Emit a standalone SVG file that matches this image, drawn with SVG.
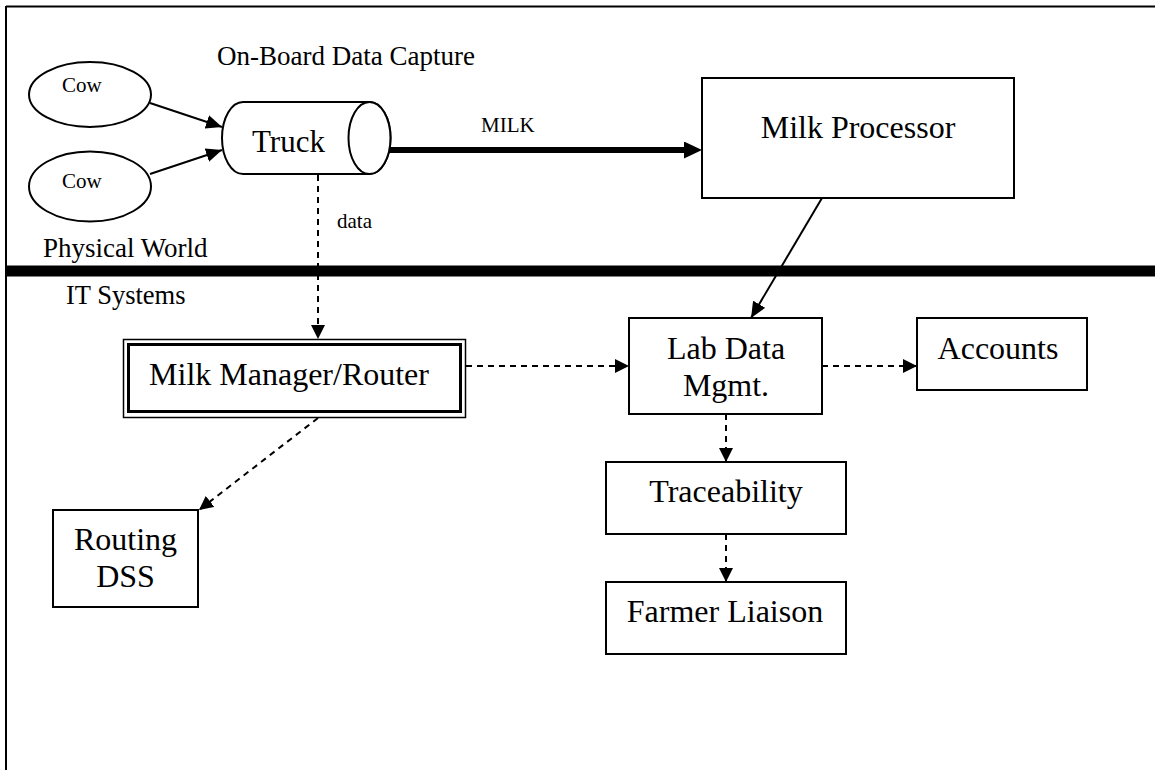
<svg xmlns="http://www.w3.org/2000/svg" width="1155" height="770" viewBox="0 0 1155 770">
  <style>
    text { font-family: "Liberation Serif", "Times New Roman", serif; fill: #000; }
    .box { fill: #fff; stroke: #000; stroke-width: 2; }
    .big { font-size: 32px; }
    .mid { font-size: 27px; }
    .small { font-size: 21px; }
    .c { text-anchor: middle; }
    .solid { stroke: #000; stroke-width: 2; fill: none; }
    .dash { stroke: #000; stroke-width: 2; fill: none; stroke-dasharray: 6 5; }
  </style>
  <defs>
    <marker id="head" markerUnits="userSpaceOnUse" viewBox="0 0 16 14" refX="16" refY="7" markerWidth="16" markerHeight="14" orient="auto">
      <path d="M0,0 L16,7 L0,14 Z" fill="#000"/>
    </marker>
    <marker id="headD" markerUnits="userSpaceOnUse" viewBox="0 0 14 14" refX="14" refY="7" markerWidth="14" markerHeight="14" orient="auto">
      <path d="M0,0 L14,7 L0,14 Z" fill="#000"/>
    </marker>
    <marker id="headBig" markerUnits="userSpaceOnUse" viewBox="0 0 18 17" refX="0" refY="8.5" markerWidth="18" markerHeight="17" orient="auto">
      <path d="M0,0 L18,8.5 L0,17 Z" fill="#000"/>
    </marker>
  </defs>

  <rect width="1155" height="770" fill="#fff"/>

  <!-- frame and world divider -->
  <g id="frame">
    <line x1="6" y1="6.5" x2="1155" y2="6.5" stroke="#000" stroke-width="2"/>
    <line x1="6" y1="6" x2="6" y2="770" stroke="#000" stroke-width="2"/>
    <line x1="6" y1="271" x2="1155" y2="271" stroke="#000" stroke-width="11"/>
    <text class="mid" x="217" y="65">On-Board Data Capture</text>
    <text class="mid" x="43" y="257">Physical World</text>
    <text class="mid" x="66" y="304" style="font-size:26.5px">IT Systems</text>
  </g>

  <!-- connectors -->
  <g id="connectors">
    <line class="solid" x1="150" y1="103" x2="222" y2="127" marker-end="url(#head)"/>
    <line class="solid" x1="150" y1="174" x2="222" y2="150" marker-end="url(#head)"/>
    <line x1="389" y1="150" x2="684" y2="150" stroke="#000" stroke-width="6" marker-end="url(#headBig)"/>
    <text class="small" x="481" y="132">MILK</text>
    <line class="dash" x1="318" y1="175" x2="318" y2="339" marker-end="url(#headD)"/>
    <text class="small" x="337" y="228">data</text>
    <line class="solid" x1="822" y1="198" x2="751" y2="318" marker-end="url(#head)"/>
    <line class="dash" x1="466" y1="366" x2="629" y2="366" marker-end="url(#headD)"/>
    <line class="dash" x1="822" y1="366" x2="917" y2="366" marker-end="url(#headD)"/>
    <line class="dash" x1="726" y1="414" x2="726" y2="462" marker-end="url(#headD)"/>
    <line class="dash" x1="726" y1="534" x2="726" y2="582" marker-end="url(#headD)"/>
    <line class="dash" x1="318" y1="418" x2="199" y2="510" marker-end="url(#headD)"/>
  </g>

  <g id="cow1">
    <ellipse class="box" cx="90" cy="94.5" rx="61" ry="32.5"/>
    <text class="small" x="62" y="92">Cow</text>
  </g>
  <g id="cow2">
    <ellipse class="box" cx="90" cy="186.5" rx="61" ry="35"/>
    <text class="small" x="62" y="188">Cow</text>
  </g>

  <g id="truck">
    <path class="box" d="M243,102 L369.5,102 A21,36 0 0 1 369.5,174 L243,174 A21,36 0 0 1 243,102 Z"/>
    <ellipse class="box" cx="369.5" cy="138" rx="21" ry="36"/>
    <text x="252" y="152" style="font-size:31px">Truck</text>
  </g>

  <g id="milk-processor">
    <rect class="box" x="702" y="78" width="312" height="120"/>
    <text class="big c" x="858" y="138">Milk Processor</text>
  </g>

  <g id="milk-manager">
    <rect x="123.5" y="339.5" width="342" height="78" fill="#fff" stroke="#000" stroke-width="1.5"/>
    <rect x="128.5" y="344.5" width="332" height="67" fill="none" stroke="#000" stroke-width="3"/>
    <text class="big c" x="289" y="385">Milk Manager/Router</text>
  </g>

  <g id="lab-data">
    <rect class="box" x="629" y="318" width="193" height="96"/>
    <text class="big c" x="726" y="359">Lab Data</text>
    <text class="big c" x="726" y="396">Mgmt.</text>
  </g>

  <g id="accounts">
    <rect class="box" x="917" y="318" width="170" height="72"/>
    <text class="big c" x="998" y="359">Accounts</text>
  </g>

  <g id="traceability">
    <rect class="box" x="606" y="462" width="240" height="72"/>
    <text class="big c" x="726" y="502">Traceability</text>
  </g>

  <g id="farmer-liaison">
    <rect class="box" x="606" y="582" width="240" height="72"/>
    <text class="big c" x="725" y="622">Farmer Liaison</text>
  </g>

  <g id="routing-dss">
    <rect class="box" x="53" y="510" width="145" height="97"/>
    <text class="big c" x="125.5" y="550">Routing</text>
    <text class="big c" x="125.5" y="587">DSS</text>
  </g>
</svg>
